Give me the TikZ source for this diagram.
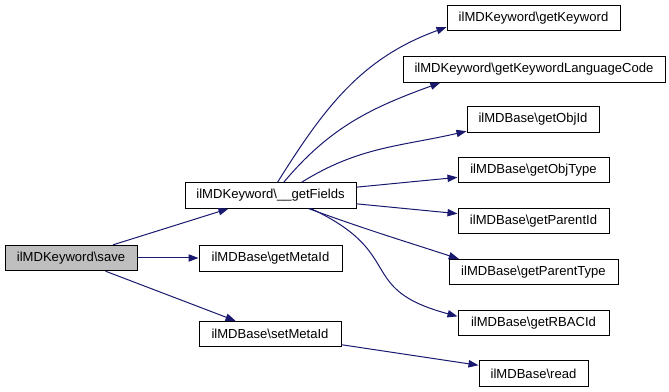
\documentclass[tikz,border=0pt]{standalone}
\usepackage{fontspec}
\setmainfont{Liberation Sans}
\usetikzlibrary{arrows.meta}
\definecolor{edgeblue}{HTML}{191970}
\definecolor{rootgray}{HTML}{BFBFBF}
\newcommand{\nsep}{\textbackslash}
\tikzset{
  every node/.style={font=\fontsize{9.8}{12}\selectfont},
  fn/.style={draw=black,line width=.75pt,minimum height=19pt,inner sep=0pt,fill=white},
  root/.style={fn,fill=rootgray},
  call/.style={-{Triangle[length=7.5pt,width=5.5pt]},line width=.75pt,draw=edgeblue}
}
\begin{document}
\begin{tikzpicture}[x=0.75pt,y=-0.75pt]
  \useasboundingbox (0,0) rectangle (669,392);

  % caller and first level
  \node[root,minimum width=99pt] (save) at (71,258) {ilMDKeyword\nsep save};
  \node[fn,minimum width=128.25pt] (fields) at (270.5,195.5) {ilMDKeyword\nsep\_\_getFields};
  \node[fn,minimum width=107.25pt] (metaid) at (270.5,258.5) {ilMDBase\nsep getMetaId};
  \node[fn,minimum width=106.5pt] (setmeta) at (270,334) {ilMDBase\nsep setMetaId};

  % second level
  \node[fn,minimum width=129.75pt] (keyword) at (533.5,18) {ilMDKeyword\nsep getKeyword};
  \node[fn,minimum width=196.5pt] (langcode) at (534,69.5) {ilMDKeyword\nsep getKeywordLanguageCode};
  \node[fn,minimum width=99pt] (objid) at (533,119.5) {ilMDBase\nsep getObjId};
  \node[fn,minimum width=113.25pt] (objtype) at (533.5,170) {ilMDBase\nsep getObjType};
  \node[fn,minimum width=113.25pt] (parentid) at (533.5,221) {ilMDBase\nsep getParentId};
  \node[fn,minimum width=126.75pt] (parenttype) at (533.5,272) {ilMDBase\nsep getParentType};
  \node[fn,minimum width=113.25pt] (rbac) at (533.5,323) {ilMDBase\nsep getRBACId};
  \node[fn,minimum width=81.75pt] (read) at (533.5,373.5) {ilMDBase\nsep read};

  % calls
  \draw[call] (save) -- (fields);
  \draw[call] (save.east) -- (save.east -| metaid.west);
  \draw[call] (save) -- (setmeta);
  \draw[call] (fields.62) to[out=58,in=200] (keyword.186);
  \draw[call] (fields.45) to[out=50,in=200] (langcode.188);
  \draw[call] (fields.23) to[out=32,in=193] (objid.190);
  \draw[call] (fields) -- (objtype);
  \draw[call] (fields) -- (parentid);
  \draw[call] (fields.341) to[out=-20,in=162] (parenttype.170);
  \draw[call] (fields.342) to[out=-25,in=165,looseness=1.5] (rbac.175);
  \draw[call] (setmeta) -- (read);
\end{tikzpicture}
\end{document}
